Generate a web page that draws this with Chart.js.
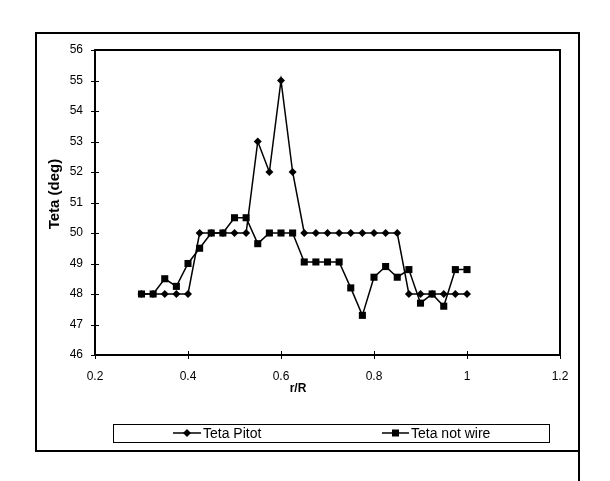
<!DOCTYPE html>
<html>
<head>
<meta charset="utf-8">
<script src="https://cdn.jsdelivr.net/npm/chart.js@4.4.0/dist/chart.umd.min.js"></script>
<style>
  html, body { margin: 0; padding: 0; background: #fff; }
  body { width: 610px; height: 481px; position: relative; overflow: hidden; font-family: "Liberation Sans", Arial, sans-serif; }
  #c { position: absolute; left: 0; top: 0; }
  .frame { position: absolute; left: 35px; top: 32px; width: 545px; height: 420px; box-sizing: border-box; border: 2px solid #000; }
  .rline { position: absolute; left: 578px; top: 32px; width: 2px; height: 449px; background: #000; }
  .legend { position: absolute; left: 113px; top: 424px; width: 437px; height: 19px; box-sizing: border-box; border: 1.5px solid #000; }
  .item { position: absolute; top: 0; height: 16px; line-height: 16px; font-size: 14px; color: #000; white-space: nowrap; }
  .item svg { vertical-align: middle; margin-right: 2px; position: relative; top: -1px; }
</style>
</head>
<body>
<div class="frame"></div>
<div class="rline"></div>
<canvas id="c" width="610" height="481"></canvas>
<div class="legend">
  <div class="item" style="left:59px;"><svg width="28" height="10"><line x1="0" y1="5" x2="28" y2="5" stroke="#000" stroke-width="1.5"/><polygon points="14,1 18,5 14,9 10,5" fill="#000"/></svg>Teta Pitot</div>
  <div class="item" style="left:268px;"><svg width="27" height="10"><line x1="0" y1="5" x2="27" y2="5" stroke="#000" stroke-width="1.5"/><rect x="10" y="1.5" width="7" height="7" fill="#000"/></svg>Teta not wire</div>
</div>
<script>
const rR = [0.3,0.325,0.35,0.375,0.4,0.425,0.45,0.475,0.5,0.525,0.55,0.575,0.6,0.625,0.65,0.675,0.7,0.725,0.75,0.775,0.8,0.825,0.85,0.875,0.9,0.925,0.95,0.975,1.0];
const tetaPitot = [48,48,48,48,48,50,50,50,50,50,53,52,55,52,50,50,50,50,50,50,50,50,50,48,48,48,48,48,48];
const tetaNotWire = [48,48,48.5,48.25,49,49.5,50,50,50.5,50.5,49.65,50,50,50,49.05,49.05,49.05,49.05,48.2,47.3,48.55,48.9,48.55,48.8,47.7,48.0,47.6,48.8,48.8];
const xTicks = [0.2,0.4,0.6,0.8,1,1.2];
const yTicks = [46,47,48,49,50,51,52,53,54,55,56];
const seriesNames = ["Teta Pitot","Teta not wire"];
const xTitle = "r/R";
const yTitle = "Teta (deg)";

const toPts = (xs, ys) => xs.map((x,i)=>({x:x, y:ys[i]}));

const borderPlugin = {
  id: 'plotBorder',
  afterDraw(chart) {
    const a = chart.chartArea, ctx = chart.ctx;
    ctx.save();
    ctx.strokeStyle = '#000';
    ctx.lineWidth = 2;
    ctx.strokeRect(a.left, a.top, a.right - a.left, a.bottom - a.top);
    ctx.lineWidth = 1;
    const ys = chart.scales.y, xs = chart.scales.x;
    yTicks.forEach(v => { const py = Math.round(ys.getPixelForValue(v)) + 0.5; ctx.beginPath(); ctx.moveTo(a.left - 4, py); ctx.lineTo(a.left + 4, py); ctx.stroke(); });
    xTicks.forEach(v => { const px = Math.round(xs.getPixelForValue(v)) + 0.5; ctx.beginPath(); ctx.moveTo(px, a.bottom - 4); ctx.lineTo(px, a.bottom + 4); ctx.stroke(); });
    // axis titles
    ctx.fillStyle = '#000';
    ctx.textAlign = 'center';
    ctx.textBaseline = 'middle';
    ctx.font = 'bold 12px "Liberation Sans"';
    ctx.fillText(xTitle, 298, 389);
    ctx.translate(55, 194);
    ctx.rotate(-Math.PI / 2);
    ctx.font = 'bold 15px "Liberation Sans"';
    ctx.fillText(yTitle, 0, 0);
    ctx.restore();
  }
};

new Chart(document.getElementById('c'), {
  type: 'scatter',
  data: {
    datasets: [
      { label: seriesNames[0], data: toPts(rR, tetaPitot), showLine: true, borderColor: '#000', backgroundColor: '#000', borderWidth: 1.5, pointStyle: 'rectRot', pointRadius: 4, pointBorderWidth: 0, tension: 0 },
      { label: seriesNames[1], data: toPts(rR, tetaNotWire), showLine: true, borderColor: '#000', backgroundColor: '#000', borderWidth: 1.5, pointStyle: 'rect', pointRadius: 5, pointBorderWidth: 0, tension: 0 }
    ]
  },
  options: {
    responsive: false,
    devicePixelRatio: 1,
    animation: false,
    layout: { padding: { left: 43, top: 50, right: 50, bottom: 80 } },
    plugins: { legend: { display: false }, tooltip: { enabled: false } },
    scales: {
      x: {
        type: 'linear', min: 0.2, max: 1.2,
        afterBuildTicks: s => { s.ticks = xTicks.map(v => ({value: v})); },
        afterFit: s => { s.height = 46; },
        grid: { display: false, drawTicks: false },
        border: { display: false },
        ticks: { color: '#000', font: { family: 'Liberation Sans', size: 12 }, padding: 14, maxRotation: 0, callback: v => String(v) },
        title: { display: false }
      },
      y: {
        type: 'linear', min: 46, max: 56,
        afterBuildTicks: s => { s.ticks = yTicks.map(v => ({value: v})); },
        afterFit: s => { s.width = 52; },
        grid: { display: false, drawTicks: false },
        border: { display: false },
        ticks: { color: '#000', font: { family: 'Liberation Sans', size: 12 }, padding: 12 },
        title: { display: false }
      }
    }
  },
  plugins: [borderPlugin]
});
</script>
</body>
</html>
